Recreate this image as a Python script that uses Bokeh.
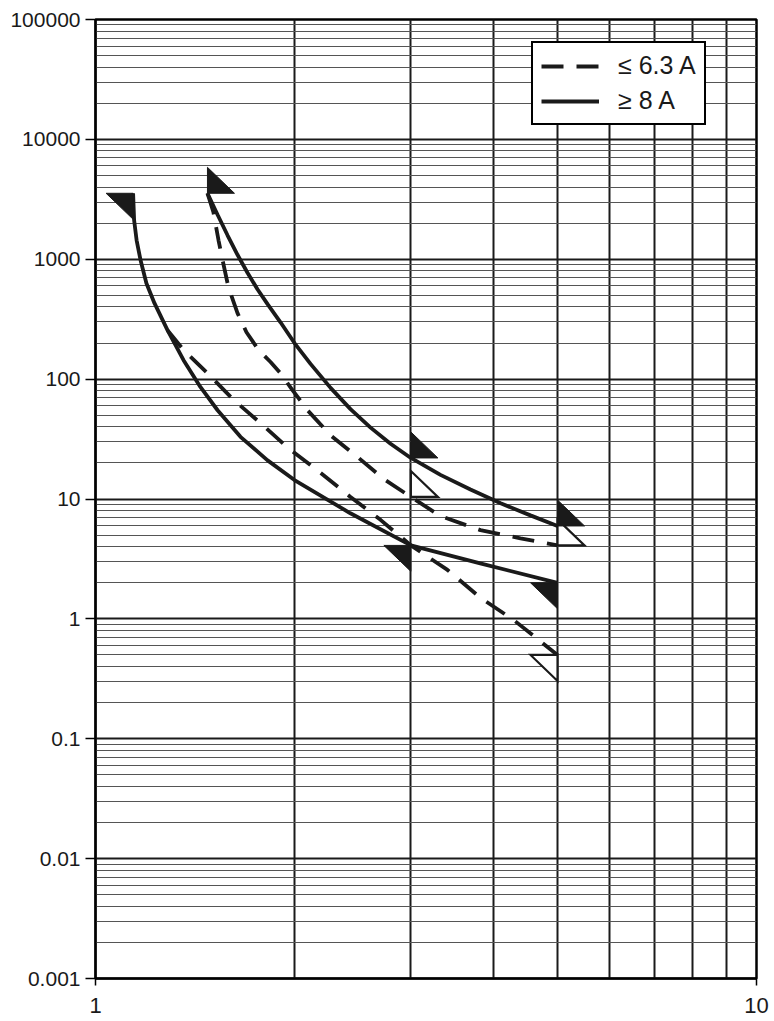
from bokeh.plotting import figure
from bokeh.models import (Range1d, FixedTicker, CustomJSTickFormatter, Legend,
                          LegendItem)
from bokeh.embed import file_html
from bokeh.resources import INLINE

# ---------------- data ----------------
x_ticks = [1, 10]
x_tick_labels = ["1", "10"]
x_grid = [1, 2, 3, 4, 5, 6, 7, 8, 9, 10]
y_ticks = [0.001, 0.01, 0.1, 1, 10, 100, 1000, 10000, 100000]
y_tick_labels = ["0.001", "0.01", "0.1", "1", "10", "100", "1000", "10000", "100000"]

# >= 8 A : lower boundary
lo8_x = [1.14, 1.144, 1.154, 1.170, 1.194, 1.228, 1.285, 1.359, 1.441, 1.53,
         1.657, 1.821, 2.0, 2.43, 3.0, 3.82, 5.0]
lo8_y = [3550, 2113, 1440, 981, 631, 430, 256, 144, 86, 55,
         33, 21, 14.4, 7.6, 4.1, 2.9, 2.0]
# >= 8 A : upper boundary
hi8_x = [1.477, 1.530, 1.584, 1.640, 1.698, 1.758, 1.821, 1.905, 2.0, 2.115,
         2.268, 2.431, 2.607, 2.795, 3.0, 3.326, 3.692, 4.101, 4.55, 5.0]
hi8_y = [3550, 2349, 1585, 1090, 772, 562, 422, 298, 200, 134,
         84.5, 56.2, 39.4, 28.9, 22.0, 15.9, 12.0, 9.2, 7.3, 5.96]
# <= 6.3 A : lower boundary
lo6_x = [1.285, 1.359, 1.477, 1.618, 1.777, 1.951, 2.213, 2.431, 2.699, 3.0,
         3.408, 3.823, 4.29, 5.0]
lo6_y = [256, 175, 112, 67, 43, 27, 15.8, 10.4, 6.7, 4.1,
         2.56, 1.5, 0.98, 0.5]
# <= 6.3 A : upper boundary
hi6_x = [1.477, 1.508, 1.535, 1.557, 1.589, 1.640, 1.692, 1.765, 1.840, 1.905,
         1.986, 2.093, 2.268, 2.491, 2.728, 3.0, 3.326, 3.823, 4.395, 5.0]
hi6_y = [3550, 2465, 1440, 981, 584, 355, 246, 175, 139, 112,
         81, 55, 34, 22.4, 14.7, 10.4, 7.2, 5.5, 4.7, 4.1]

legend_labels = ["\u2264 6.3 A", "\u2265 8 A"]

# ---------------- style ----------------
INK = "#1a1a1a"
LW = 3.8
DASH = "22 13"
TRI_W = 10 ** (27 / 661)   # triangle marker size (factor in log space)
TRI_H = 10 ** (26 / 120)
FONT = "Liberation Sans"

p = figure(x_axis_type="log", y_axis_type="log",
           x_range=Range1d(1, 10), y_range=Range1d(0.001, 100000),
           frame_width=661, frame_height=959,
           min_border_left=95, min_border_right=17,
           min_border_top=19, min_border_bottom=42,
           output_backend="svg", toolbar_location=None,
           background_fill_color="white", border_fill_color="white")

# grid
p.xgrid.ticker = FixedTicker(ticks=x_grid)
p.xgrid.grid_line_color = INK
p.xgrid.grid_line_width = 2
p.xgrid.grid_line_alpha = 1

minor = [t * k for t in y_ticks[:-1] for k in range(2, 10)]
p.yaxis.ticker = FixedTicker(ticks=y_ticks, minor_ticks=minor)
p.ygrid.grid_line_color = INK
p.ygrid.grid_line_width = 2
p.ygrid.grid_line_alpha = 1
p.ygrid.minor_grid_line_color = "#555555"
p.ygrid.minor_grid_line_width = 1

p.outline_line_color = "black"
p.outline_line_width = 2.5
p.outline_line_alpha = 1

# axes
fmt_code = """
let best = -1, bd = 1e9;
for (let i = 0; i < tvals.length; i++) {
  const d = Math.abs(Math.log10(tvals[i]) - Math.log10(tick));
  if (d < bd) { bd = d; best = i; }
}
return bd < 1e-6 ? tlabels[best] : "";
"""
p.yaxis.formatter = CustomJSTickFormatter(args=dict(tvals=y_ticks, tlabels=y_tick_labels), code=fmt_code)
p.xaxis.ticker = FixedTicker(ticks=x_ticks)
p.xaxis.formatter = CustomJSTickFormatter(args=dict(tvals=x_ticks, tlabels=x_tick_labels), code=fmt_code)

for ax in (p.xaxis[0], p.yaxis[0]):
    ax.axis_line_color = "black"
    ax.axis_line_width = 2
    ax.major_tick_line_color = "black"
    ax.major_tick_line_width = 1.5
    ax.major_tick_in = 0
    ax.minor_tick_line_color = None
    ax.major_label_text_font = FONT
    ax.major_label_text_color = INK

p.yaxis.major_tick_out = 10
p.yaxis.major_label_standoff = 5
p.yaxis.major_label_text_font_size = "21px"
p.yaxis.major_label_text_baseline = "alphabetic"
p.xaxis.major_tick_out = 7
p.xaxis.major_label_standoff = 12
p.xaxis.major_label_text_font_size = "22px"

# curves
r_lo8 = p.line(lo8_x, lo8_y, line_color=INK, line_width=LW)
r_hi8 = p.line(hi8_x, hi8_y, line_color=INK, line_width=LW)
r_lo6 = p.line(lo6_x, lo6_y, line_color=INK, line_width=LW, line_dash=DASH)
r_hi6 = p.line(hi6_x, hi6_y, line_color=INK, line_width=LW, line_dash=DASH)


def tri(x, y, direction):
    if direction == "up_right":
        return [x, x, x * TRI_W], [y * TRI_H, y, y]
    return [x / TRI_W, x, x], [y, y, y / TRI_H]


def at(xs, ys, xv):
    i = xs.index(xv)
    return xs[i], ys[i]


open_tris = [tri(*at(hi6_x, hi6_y, 3.0), "up_right"),
             tri(hi6_x[-1], hi6_y[-1], "up_right"),
             tri(lo6_x[-1], lo6_y[-1], "down_left")]
filled_tris = [tri(lo8_x[0], lo8_y[0], "down_left"),
               tri(hi8_x[0], hi8_y[0], "up_right"),
               tri(*at(hi8_x, hi8_y, 3.0), "up_right"),
               tri(*at(lo8_x, lo8_y, 3.0), "down_left"),
               tri(hi8_x[-1], hi8_y[-1], "up_right"),
               tri(lo8_x[-1], lo8_y[-1], "down_left")]

p.patches([t[0] for t in open_tris], [t[1] for t in open_tris],
          fill_color="white", line_color=INK, line_width=2.2, line_join="miter")
p.patches([t[0] for t in filled_tris], [t[1] for t in filled_tris],
          fill_color=INK, line_color=INK, line_width=1, line_join="miter")

# legend
legend = Legend(items=[LegendItem(label=legend_labels[0], renderers=[r_lo6]),
                       LegendItem(label=legend_labels[1], renderers=[r_lo8])],
                location=(436, 853), margin=0, padding=8, spacing=6,
                glyph_width=58, glyph_height=28, label_height=28,
                label_standoff=19,
                label_text_font=FONT, label_text_font_size="25px",
                label_text_color=INK,
                border_line_color="black", border_line_width=2, border_line_alpha=1,
                background_fill_color="white", background_fill_alpha=1)
p.add_layout(legend, "center")

open("out.html", "w").write(file_html(p, INLINE))
